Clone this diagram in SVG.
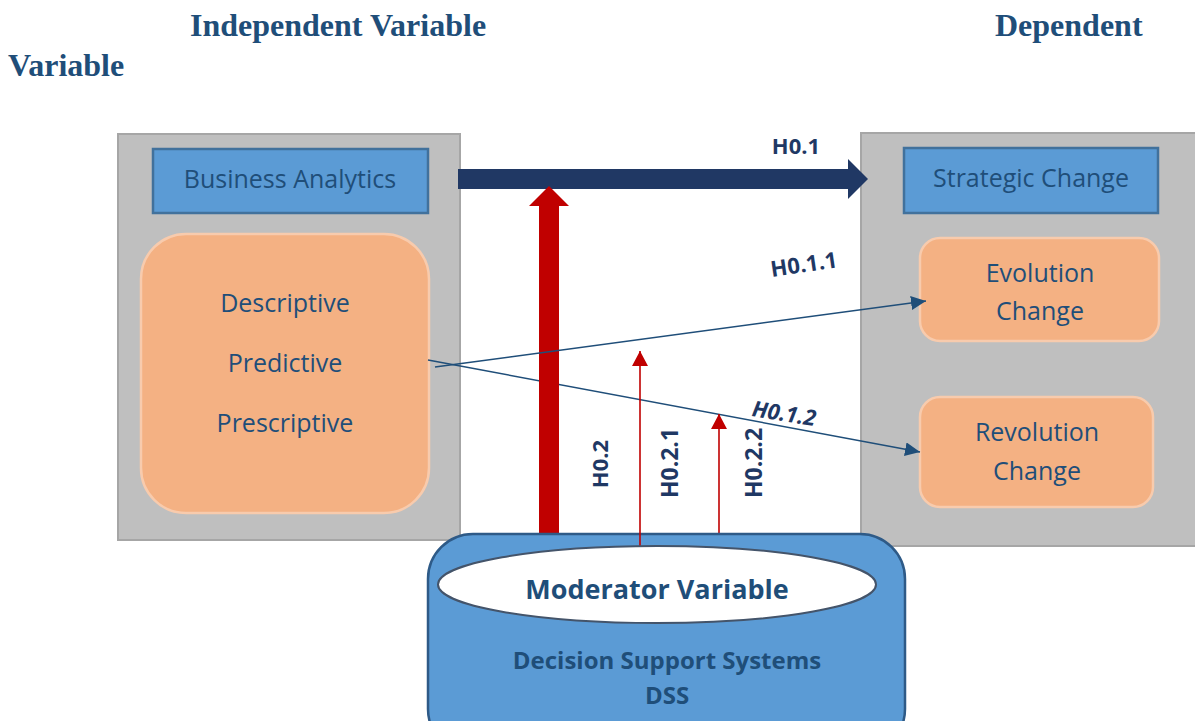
<svg xmlns="http://www.w3.org/2000/svg" width="1195" height="721" viewBox="0 0 1195 721">
  <style>
    .hdr { font-family: "Liberation Serif", "Times New Roman", serif; font-weight: bold; font-size: 32px; fill: #1f4e79; }
    .panel { fill: #bfbfbf; stroke: #a6a6a6; stroke-width: 2; }
    .title { fill: #5b9bd5; stroke: #41719c; stroke-width: 2.5; }
    .soft { fill: #f4b183; stroke: #f8cbad; stroke-width: 2.5; }
    .lbl { font-family: "Open Sans", "Noto Sans", sans-serif; font-size: 25px; fill: #1f4e79; text-anchor: middle; }
    .hyp { font-family: "Open Sans", "Noto Sans", sans-serif; font-weight: bold; font-size: 22px; fill: #1f3864; text-anchor: middle; }
    .bold { font-family: "Open Sans", "Noto Sans", sans-serif; font-weight: bold; fill: #1f4e79; text-anchor: middle; }
    .thin { stroke: #1f4e79; stroke-width: 1.5; fill: none; }
    .thinred { stroke: #c00000; stroke-width: 1.6; fill: none; }
  </style>
  <defs>
    <marker id="headBlue" markerUnits="userSpaceOnUse" markerWidth="16" markerHeight="14" refX="15" refY="7" orient="auto">
      <path d="M0,0 L15,7 L0,14 z" fill="#1f4e79"/>
    </marker>
    <marker id="headRed" markerUnits="userSpaceOnUse" markerWidth="16" markerHeight="17" refX="15" refY="8" orient="auto">
      <path d="M0,0 L15,8 L0,16 z" fill="#c00000"/>
    </marker>
  </defs>

  <rect width="1195" height="721" fill="#ffffff"/>

  <!-- column headings -->
  <text class="hdr" x="190" y="36">Independent Variable</text>
  <text class="hdr" x="995" y="36">Dependent</text>
  <text class="hdr" x="8" y="76">Variable</text>

  <!-- independent variable panel -->
  <g id="business-analytics">
    <rect class="panel" x="118" y="134" width="342" height="406"/>
    <rect class="title" x="153" y="149" width="275" height="64"/>
    <text class="lbl" x="290" y="188">Business Analytics</text>
    <rect class="soft" x="141" y="234" width="288" height="279" rx="45"/>
    <text class="lbl" x="285" y="312">Descriptive</text>
    <text class="lbl" x="285" y="372">Predictive</text>
    <text class="lbl" x="285" y="432">Prescriptive</text>
  </g>

  <!-- dependent variable panel -->
  <g id="strategic-change">
    <rect class="panel" x="861" y="133" width="345" height="413"/>
    <rect class="title" x="904" y="148" width="254" height="65"/>
    <text class="lbl" x="1031" y="187">Strategic Change</text>
  </g>
  <g id="evolution-change">
    <rect class="soft" x="920" y="238" width="239" height="103" rx="20"/>
    <text class="lbl" x="1040" y="282">Evolution</text>
    <text class="lbl" x="1040" y="320">Change</text>
  </g>
  <g id="revolution-change">
    <rect class="soft" x="920" y="397" width="233" height="110" rx="20"/>
    <text class="lbl" x="1037" y="441">Revolution</text>
    <text class="lbl" x="1037" y="480">Change</text>
  </g>

  <!-- connectors -->
  <g id="connectors">
    <!-- H0.1.2 : Predictive to Revolution -->
    <line class="thin" x1="428" y1="360" x2="920" y2="452" marker-end="url(#headBlue)"/>
    <!-- H0.1 : main effect -->
    <polygon points="458,169 848,169 848,159 868,179 848,199 848,189 458,189" fill="#203864"/>
    <!-- H0.2 : moderation of main effect -->
    <polygon points="539,540 539,206 529,206 549,186 569,206 559,206 559,540" fill="#c00000"/>
    <!-- H0.1.1 : Predictive to Evolution -->
    <line class="thin" x1="435" y1="367" x2="926" y2="301" marker-end="url(#headBlue)"/>
    <!-- H0.2.2 -->
    <line class="thinred" x1="719" y1="535" x2="719" y2="414" marker-end="url(#headRed)"/>
  </g>

  <!-- moderator -->
  <g id="decision-support-systems">
    <rect x="428" y="534" width="477" height="220" rx="45" fill="#5b9bd5" stroke="#2e5a87" stroke-width="2.5"/>
    <!-- H0.2.1 starts on the moderator ellipse -->
    <line class="thinred" x1="640" y1="550" x2="640" y2="351" marker-end="url(#headRed)"/>
    <ellipse cx="657" cy="584.5" rx="219" ry="38.5" fill="#ffffff" stroke="#44546a" stroke-width="2"/>
    <text class="bold" x="657" y="599" style="font-size:27px">Moderator Variable</text>
    <text class="bold" x="667" y="669" style="font-size:24px">Decision Support Systems</text>
    <text class="bold" x="667" y="704" style="font-size:24px">DSS</text>
  </g>

  <!-- hypothesis labels -->
  <g id="hypothesis-labels">
    <text class="hyp" x="796" y="154">H0.1</text>
    <text class="hyp" x="805" y="272" transform="rotate(-8.5 805 272)">H0.1.1</text>
    <text class="hyp" x="783" y="421" transform="rotate(9 783 421)" font-style="italic">H0.1.2</text>
    <text class="hyp" x="608" y="464" transform="rotate(-90 608 464)">H0.2</text>
    <text class="hyp" x="678" y="463" transform="rotate(-90 678 463)" style="font-size:23px">H0.2.1</text>
    <text class="hyp" x="762" y="463" transform="rotate(-90 762 463)" style="font-size:23px">H0.2.2</text>
  </g>
</svg>
